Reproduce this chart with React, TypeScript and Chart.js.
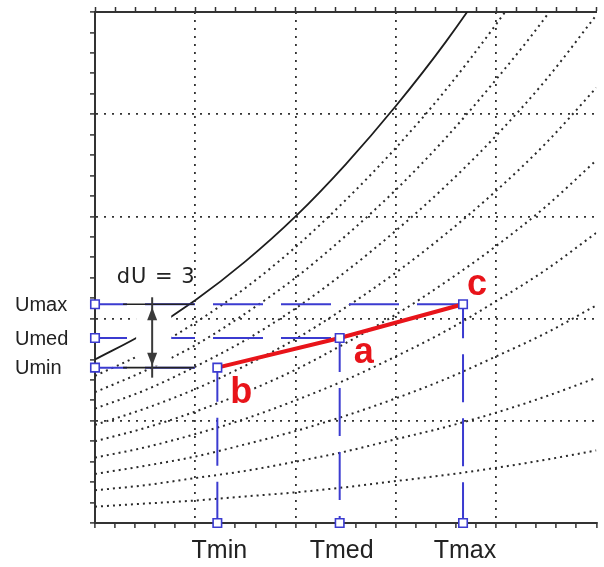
import { useEffect, useRef } from "react";
import { Chart, registerables } from "chart.js";

Chart.register(...registerables);

// ---- data ----
const T_SAMPLES = [0, 0.5, 1, 1.5, 2, 2.5, 3, 3.5, 4, 4.5, 5];
const SATURATION = [1.6, 1.86, 2.18, 2.56, 3.0, 3.51, 4.08, 4.71, 5.42, 6.2, 7.1];
const CURVE_90 = [1.44, 1.67, 1.96, 2.3, 2.7, 3.16, 3.67, 4.24, 4.88, 5.58, 6.39];
const CURVE_80 = [1.28, 1.49, 1.74, 2.05, 2.4, 2.81, 3.26, 3.77, 4.34, 4.96, 5.68];
const CURVE_70 = [1.12, 1.3, 1.53, 1.79, 2.1, 2.46, 2.86, 3.3, 3.79, 4.34, 4.97];
const CURVE_60 = [0.96, 1.12, 1.31, 1.54, 1.8, 2.11, 2.45, 2.83, 3.25, 3.72, 4.26];
const CURVE_50 = [0.8, 0.93, 1.09, 1.28, 1.5, 1.76, 2.04, 2.36, 2.71, 3.1, 3.55];
const CURVE_40 = [0.64, 0.74, 0.87, 1.02, 1.2, 1.4, 1.63, 1.88, 2.17, 2.48, 2.84];
const CURVE_30 = [0.48, 0.56, 0.65, 0.77, 0.9, 1.05, 1.22, 1.41, 1.63, 1.86, 2.13];
const CURVE_20 = [0.32, 0.37, 0.44, 0.51, 0.6, 0.7, 0.82, 0.94, 1.08, 1.24, 1.42];
const CURVE_10 = [0.16, 0.19, 0.22, 0.26, 0.3, 0.35, 0.41, 0.47, 0.54, 0.62, 0.71];
const DOTTED_CURVES = [CURVE_90, CURVE_80, CURVE_70, CURVE_60, CURVE_50, CURVE_40, CURVE_30, CURVE_20, CURVE_10];

const T_LABELS = ["Tmin", "Tmed", "Tmax"];
const T_VALUES = [1.22, 2.44, 3.67];
const U_LABELS = ["Umin", "Umed", "Umax"];
const U_VALUES = [1.52, 1.81, 2.14];
const POINT_LABELS = ["b", "a", "c"];
const DU_LABEL = "dU = 3";
const DU_ARROW_X = 0.57;
const BRACKET_X = [0.28, 0.99];
const MASK_X = [0.41, 0.76];

const X_MIN = 0;
const X_MAX = 5;
const Y_MIN = 0;
const Y_MAX = 5;
const MINOR_STEP = 0.2;

// ---- styles ----
const BLUE = "#3b3bd0";
const RED = "#e8141a";
const AXIS = "#333333";

const toPts = (ys: number[]) => T_SAMPLES.map((t, i) => ({ x: t, y: ys[i] }));

const majorGridColor = (c: any) => {
  const v = c.tick ? c.tick.value : null;
  if (v == null) return "rgba(0,0,0,0)";
  const inner = v > 0.01 && v < 4.99 && Math.abs(v - Math.round(v)) < 1e-6;
  return inner ? "#333333" : "rgba(0,0,0,0)";
};

const annotationPlugin = {
  id: "annotations",
  afterDatasetsDraw(chart: any) {
    const { ctx, scales, chartArea } = chart;
    const xs = scales.x;
    const ys = scales.y;
    const px = (v: number) => xs.getPixelForValue(v);
    const py = (v: number) => ys.getPixelForValue(v);
    const yLow = py(U_VALUES[0]);
    const yHigh = py(U_VALUES[2]);
    ctx.save();

    // white box behind the dU arrow
    ctx.fillStyle = "#ffffff";
    ctx.fillRect(px(MASK_X[0]), yHigh + 2, px(MASK_X[1]) - px(MASK_X[0]), yLow - yHigh - 4);

    // double arrow
    const ax = px(DU_ARROW_X);
    ctx.strokeStyle = "#3a3a3a";
    ctx.fillStyle = "#3a3a3a";
    ctx.lineWidth = 2;
    ctx.beginPath();
    ctx.moveTo(ax, yHigh - 7);
    ctx.lineTo(ax, yLow + 10);
    ctx.stroke();
    ctx.beginPath();
    ctx.moveTo(ax, yHigh + 3);
    ctx.lineTo(ax - 5, yHigh + 16);
    ctx.lineTo(ax + 5, yHigh + 16);
    ctx.closePath();
    ctx.fill();
    ctx.beginPath();
    ctx.moveTo(ax, yLow - 2);
    ctx.lineTo(ax - 5, yLow - 15);
    ctx.lineTo(ax + 5, yLow - 15);
    ctx.closePath();
    ctx.fill();

    // dU label
    ctx.fillStyle = "#222";
    ctx.font = '21px "DejaVu Sans"';
    (ctx as any).letterSpacing = "1px";
    ctx.textAlign = "center";
    ctx.textBaseline = "alphabetic";
    ctx.fillText(DU_LABEL, ax + 4, yHigh - 21);
    (ctx as any).letterSpacing = "0px";

    // U labels on the left
    ctx.font = '20px "Liberation Sans"';
    ctx.textAlign = "left";
    ctx.textBaseline = "middle";
    U_LABELS.forEach((lab, i) => {
      ctx.fillText(lab, 15, py(U_VALUES[i]) + 1);
    });

    // T labels below the axis
    ctx.font = '25px "Liberation Sans"';
    ctx.textAlign = "center";
    ctx.textBaseline = "middle";
    T_LABELS.forEach((lab, i) => {
      ctx.fillText(lab, px(T_VALUES[i]) + 2, chartArea.bottom + 28);
    });

    // point letters
    const offsets = [
      [24, 35],
      [24, 25],
      [14, -9],
    ];
    ctx.font = 'bold 36px "Liberation Sans"';
    ctx.textAlign = "center";
    ctx.textBaseline = "alphabetic";
    POINT_LABELS.forEach((lab, i) => {
      const x = px(T_VALUES[i]) + offsets[i][0];
      const y = py(U_VALUES[i]) + offsets[i][1];
      ctx.lineWidth = 6;
      ctx.strokeStyle = "#ffffff";
      ctx.lineJoin = "round";
      ctx.strokeText(lab, x, y);
      ctx.fillStyle = RED;
      ctx.fillText(lab, x, y);
    });
    ctx.restore();
  },
};

export default function App() {
  const ref = useRef<HTMLCanvasElement | null>(null);

  useEffect(() => {
    if (!ref.current) return;

    const markerPts = [
      ...U_VALUES.map((u) => ({ x: 0, y: u })),
      ...T_VALUES.map((t, i) => ({ x: t, y: U_VALUES[i] })),
      ...T_VALUES.map((t) => ({ x: t, y: 0 })),
    ];

    const datasets: any[] = [];
    datasets.push({
      label: "markers",
      data: markerPts,
      showLine: false,
      pointStyle: "rect",
      pointRadius: 6,
      pointBorderWidth: 1.6,
      pointBorderColor: BLUE,
      pointBackgroundColor: "#ffffff",
      clip: false,
      order: 0,
    });
    datasets.push({
      label: "process",
      data: T_VALUES.map((t, i) => ({ x: t, y: U_VALUES[i] })),
      borderColor: RED,
      borderWidth: 4,
      pointRadius: 0,
      order: 1,
    });
    [0, 2].forEach((i) => {
      datasets.push({
        label: "bracket" + i,
        data: [
          { x: BRACKET_X[0], y: U_VALUES[i] },
          { x: BRACKET_X[1], y: U_VALUES[i] },
        ],
        borderColor: "#222",
        borderWidth: 1.6,
        pointRadius: 0,
        order: 2,
      });
    });
    U_VALUES.forEach((u, i) => {
      datasets.push({
        label: "h" + i,
        data: [
          { x: 0, y: u },
          { x: T_VALUES[i], y: u },
        ],
        borderColor: BLUE,
        borderWidth: 2,
        borderDash: [50, 18],
        borderDashOffset: 18,
        pointRadius: 0,
        clip: false,
        order: 3,
      });
      datasets.push({
        label: "v" + i,
        data: [
          { x: T_VALUES[i], y: u },
          { x: T_VALUES[i], y: 0 },
        ],
        borderColor: BLUE,
        borderWidth: 2,
        borderDash: [48, 16],
        borderDashOffset: 14,
        pointRadius: 0,
        clip: false,
        order: 3,
      });
    });
    datasets.push({
      label: "saturation",
      data: toPts(SATURATION),
      borderColor: "#1e1e1e",
      borderWidth: 1.8,
      pointRadius: 0,
      cubicInterpolationMode: "monotone",
      order: 5,
    });
    DOTTED_CURVES.forEach((c, i) => {
      datasets.push({
        label: "rh" + i,
        data: toPts(c),
        borderColor: "#2a2a2a",
        borderWidth: 2,
        borderDash: [2, 4],
        pointRadius: 0,
        cubicInterpolationMode: "monotone",
        order: 6,
      });
    });

    const chart = new Chart(ref.current, {
      type: "line",
      data: { datasets },
      plugins: [annotationPlugin],
      options: {
        responsive: false,
        animation: false,
        devicePixelRatio: 1,
        events: [],
        layout: { padding: 0 },
        elements: { point: { radius: 0, hoverRadius: 0 } },
        plugins: { legend: { display: false }, tooltip: { enabled: false } },
        scales: {
          x: {
            type: "linear",
            position: "bottom",
            min: X_MIN,
            max: X_MAX,
            ticks: { stepSize: MINOR_STEP, display: false },
            grid: {
              color: majorGridColor,
              lineWidth: 1.8,
              tickColor: AXIS,
              tickWidth: 1.5,
              tickLength: 5,
            },
            border: { display: true, color: AXIS, width: 2, dash: [2, 6] },
            afterFit: (s: any) => {
              s.height = 44;
            },
          },
          x2: {
            type: "linear",
            position: "top",
            min: X_MIN,
            max: X_MAX,
            ticks: { stepSize: MINOR_STEP, display: false },
            grid: {
              drawOnChartArea: false,
              color: AXIS,
              tickColor: AXIS,
              tickWidth: 1.5,
              tickLength: 5,
            },
            border: { display: true, color: AXIS, width: 2 },
            afterFit: (s: any) => {
              s.height = 12;
            },
          },
          y: {
            type: "linear",
            position: "left",
            min: Y_MIN,
            max: Y_MAX,
            ticks: { stepSize: MINOR_STEP, display: false },
            grid: {
              color: majorGridColor,
              lineWidth: 1.8,
              tickColor: AXIS,
              tickWidth: 1.5,
              tickLength: 5,
            },
            border: { display: true, color: AXIS, width: 2, dash: [2, 6] },
            afterFit: (s: any) => {
              s.width = 95;
            },
          },
        },
      } as any,
    });
    return () => chart.destroy();
  }, []);

  return (
    <div style={{ position: "absolute", left: 0, top: 0, width: 604, height: 567, background: "#ffffff" }}>
      <canvas ref={ref} width={604} height={567} style={{ width: 604, height: 567, display: "block" }} />
    </div>
  );
}
